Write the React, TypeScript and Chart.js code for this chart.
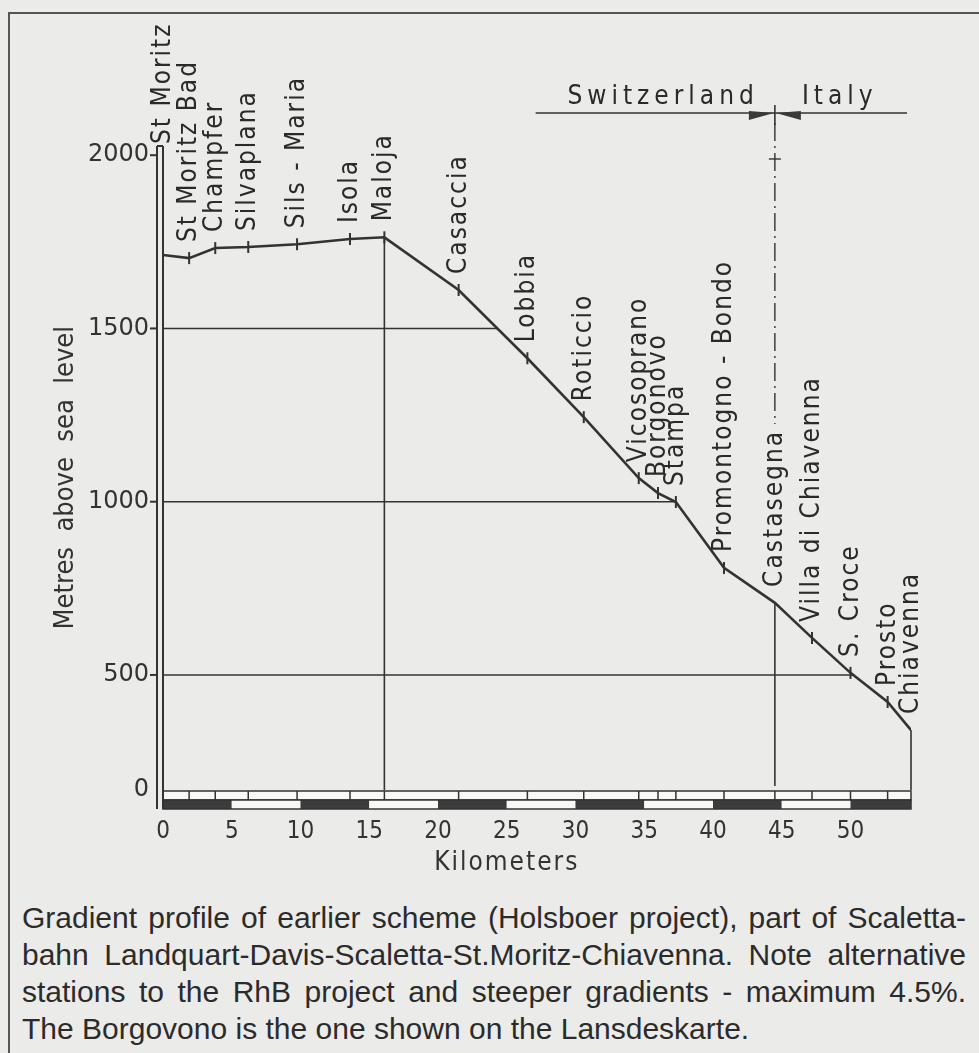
import React, { useEffect, useRef } from 'react';
import { Chart, registerables } from 'chart.js';

Chart.register(...registerables);

// ---- data ----
const stations = [
  'St Moritz', 'St Moritz Bad', 'Champfer', 'Silvaplana', 'Sils - Maria', 'Isola', 'Maloja',
  'Casaccia', 'Lobbia', 'Roticcio', 'Vicosoprano', 'Borgonovo', 'Stampa', 'Promontogno - Bondo',
  'Castasegna', 'Villa di Chiavenna', 'S. Croce', 'Prosto', 'Chiavenna',
];
const stationKm = [0, 1.9, 3.8, 6.2, 9.75, 13.6, 16.1, 21.5, 26.5, 30.6, 34.6, 36.0, 37.3, 40.8, 44.5, 47.2, 50.0, 52.7, 54.4];
const stationElevation = [1712, 1703, 1732, 1735, 1743, 1758, 1763, 1611, 1414, 1244, 1068, 1025, 999, 809, 708, 607, 506, 422, 341];

const xTicks = [0, 5, 10, 15, 20, 25, 30, 35, 40, 45, 50];
// the drawn elevation axis is broken: its floor (labelled "0") sits at about 168 m
const yTicks = [168, 500, 1000, 1500, 2000];
const yTickLabels = ['0', '500', '1000', '1500', '2000'];
const gridLevels = [500, 1000, 1500];
const countries = ['Switzerland', 'Italy'];
const borderStation = 'Castasegna';
const summitStation = 'Maloja';
const scaleBlockKm = 5;
const headerStartKm = 27.1;

const captionLines = [
  'Gradient profile of earlier scheme (Holsboer project), part of Scaletta-',
  'bahn Landquart-Davis-Scaletta-St.Moritz-Chiavenna. Note alternative',
  'stations to the RhB project and steeper gradients - maximum 4.5%.',
  'The Borgovono is the one shown on the Lansdeskarte.',
];

const INK = '#333333';
const BG = '#ebebe9';
const COND = '"DejaVu Sans Condensed", "DejaVu Sans", sans-serif';
const LABEL_FONT = `26px ${COND}`;

function kmAtElevation(level: number): number {
  const start = stations.indexOf(summitStation);
  for (let i = start; i < stationKm.length - 1; i++) {
    const e0 = stationElevation[i], e1 = stationElevation[i + 1];
    if (e0 >= level && e1 <= level) {
      const t = (e0 - level) / (e0 - e1);
      return stationKm[i] + t * (stationKm[i + 1] - stationKm[i]);
    }
  }
  return stationKm[stationKm.length - 1];
}

const profilePlugin = {
  id: 'profileDecor',
  beforeDatasetsDraw(chart: any) {
    const { ctx, chartArea: a, scales } = chart;
    const x = scales.x, y = scales.y;
    ctx.save();
    ctx.strokeStyle = INK;
    ctx.lineWidth = 1.6;
    const seg = (x0: number, y0: number, x1: number, y1: number) => {
      ctx.beginPath(); ctx.moveTo(x0, y0); ctx.lineTo(x1, y1); ctx.stroke();
    };
    // horizontal grid lines, running from the axis to the profile
    for (const lvl of gridLevels) {
      const py = y.getPixelForValue(lvl);
      seg(a.left, py, x.getPixelForValue(kmAtElevation(lvl)), py);
    }
    // summit vertical
    const si = stations.indexOf(summitStation);
    const sx = x.getPixelForValue(stationKm[si]);
    seg(sx, y.getPixelForValue(stationElevation[si]), sx, a.bottom);
    // terminus vertical
    const li = stations.length - 1;
    const lx = x.getPixelForValue(stationKm[li]);
    seg(lx, y.getPixelForValue(stationElevation[li]), lx, a.bottom);

    // frontier line
    const bi = stations.indexOf(borderStation);
    const bx = x.getPixelForValue(stationKm[bi]);
    const by = y.getPixelForValue(stationElevation[bi]);
    const hy = a.top - 37;
    seg(bx, by, bx, a.bottom - 4);
    ctx.font = LABEL_FONT;
    (ctx as any).letterSpacing = '2px';
    const labelTop = by - 16 - ctx.measureText(borderStation).width - 6;
    ctx.setLineDash([18, 5, 2, 5]);
    ctx.lineWidth = 1.4;
    seg(bx, hy + 10, bx, labelTop);
    ctx.setLineDash([]);
    seg(bx - 6, hy + 46, bx + 6, hy + 46);
    ctx.restore();
  },
  afterDatasetsDraw(chart: any) {
    const { ctx, chartArea: a, scales } = chart;
    const x = scales.x, y = scales.y;
    ctx.save();
    ctx.strokeStyle = INK;
    ctx.fillStyle = INK;
    const seg = (x0: number, y0: number, x1: number, y1: number) => {
      ctx.beginPath(); ctx.moveTo(x0, y0); ctx.lineTo(x1, y1); ctx.stroke();
    };

    // scale bar under the profile
    const barTop = a.bottom + 1, barMid = a.bottom + 10, barBot = a.bottom + 19;
    const endKm = stationKm[stationKm.length - 1];
    const xr = x.getPixelForValue(endKm);
    ctx.lineWidth = 1.5;
    ctx.fillStyle = '#f8f8f6';
    ctx.fillRect(a.left, barTop, xr - a.left, barMid - barTop);
    ctx.strokeRect(a.left, barTop, xr - a.left, barMid - barTop);
    for (let i = 1; i < stationKm.length - 1; i++) {
      const px = x.getPixelForValue(stationKm[i]);
      seg(px, barTop, px, barMid);
    }
    for (let k = 0, n = 0; k < endKm; k += scaleBlockKm, n++) {
      const x0 = x.getPixelForValue(k);
      const x1 = x.getPixelForValue(Math.min(k + scaleBlockKm, endKm));
      ctx.fillStyle = n % 2 === 0 ? '#3c3c3c' : '#f8f8f6';
      ctx.fillRect(x0, barMid, x1 - x0, barBot - barMid);
    }
    ctx.strokeRect(a.left, barMid, xr - a.left, barBot - barMid);

    // double vertical axis line
    ctx.lineWidth = 2;
    const ax1 = a.left - 6, ax2 = a.left;
    seg(ax1, a.top - 4, ax1, barBot);
    seg(ax2, a.top - 4, ax2, barBot);
    seg(ax1, a.top - 4, ax2, a.top - 4);
    for (let i = 1; i < yTicks.length; i++) {
      const py = y.getPixelForValue(yTicks[i]);
      seg(ax1 - 7, py, ax1, py);
    }

    // station names
    ctx.fillStyle = '#2a2a2a';
    ctx.font = LABEL_FONT;
    (ctx as any).letterSpacing = '2px';
    ctx.textAlign = 'left';
    ctx.textBaseline = 'alphabetic';
    stations.forEach((name, i) => {
      const px = x.getPixelForValue(stationKm[i]);
      const py = i === 0 ? a.top - 6 : y.getPixelForValue(stationElevation[i]) - 16;
      ctx.save();
      ctx.translate(px + 7, py);
      ctx.rotate(-Math.PI / 2);
      ctx.fillText(name, 0, 0);
      ctx.restore();
    });

    // country header
    const bi = stations.indexOf(borderStation);
    const bx = x.getPixelForValue(stationKm[bi]);
    const hy = a.top - 37;
    ctx.lineWidth = 1.6;
    seg(x.getPixelForValue(headerStartKm), hy, a.right - 4, hy);
    seg(bx, hy - 8, bx, hy + 12);
    ctx.fillStyle = '#3a3a3a';
    ctx.beginPath();
    ctx.moveTo(bx - 26, hy - 2); ctx.lineTo(bx - 1, hy); ctx.lineTo(bx - 26, hy + 7); ctx.closePath(); ctx.fill();
    ctx.beginPath();
    ctx.moveTo(bx + 26, hy - 2); ctx.lineTo(bx + 1, hy); ctx.lineTo(bx + 26, hy + 7); ctx.closePath(); ctx.fill();
    ctx.fillStyle = '#2a2a2a';
    ctx.font = `26px ${COND}`;
    (ctx as any).letterSpacing = '5px';
    ctx.textAlign = 'right';
    ctx.fillText(countries[0], bx - 16, hy - 9);
    ctx.textAlign = 'left';
    ctx.fillText(countries[1], bx + 27, hy - 9);

    // x axis title, centred under the 25 km tick
    ctx.font = `26px ${COND}`;
    (ctx as any).letterSpacing = '2px';
    ctx.textAlign = 'center';
    ctx.textBaseline = 'middle';
    ctx.fillStyle = INK;
    ctx.fillText('Kilometers', x.getPixelForValue(25), a.bottom + 73);
    (ctx as any).letterSpacing = '0px';
    ctx.restore();
  },
};

export default function App() {
  const ref = useRef<HTMLCanvasElement | null>(null);

  useEffect(() => {
    const canvas = ref.current;
    if (!canvas) return;
    const bi = stations.indexOf(borderStation);
    const last = stations.length - 1;
    const chart = new Chart(canvas, {
      type: 'line',
      data: {
        datasets: [
          {
            label: 'Elevation',
            data: stationKm.map((k, i) => ({ x: k, y: stationElevation[i] })),
            borderColor: INK,
            borderWidth: 2.6,
            tension: 0,
            fill: false,
            pointStyle: 'line',
            pointRotation: 90,
            pointRadius: (c: any) => (c.dataIndex === 0 || c.dataIndex === bi || c.dataIndex === last ? 0 : 6),
            pointBorderWidth: 2,
            pointBorderColor: INK,
            pointBackgroundColor: INK,
          } as any,
        ],
      },
      options: {
        animation: false,
        responsive: false,
        maintainAspectRatio: false,
        layout: { padding: { top: 150, right: 68, left: 0, bottom: 0 } },
        plugins: { legend: { display: false }, tooltip: { enabled: false } },
        scales: {
          x: {
            type: 'linear',
            min: 0,
            max: stationKm[stationKm.length - 1],
            afterBuildTicks: (s: any) => { s.ticks = xTicks.map((v) => ({ value: v })); },
            afterFit: (s: any) => { s.height = 90; },
            grid: { display: false, drawTicks: false },
            border: { display: false },
            ticks: {
              autoSkip: false,
              maxRotation: 0,
              padding: 27,
              color: INK,
              font: { family: COND, size: 24 },
            },
          },
          y: {
            type: 'linear',
            min: yTicks[0],
            max: 2015,
            afterBuildTicks: (s: any) => { s.ticks = yTicks.map((v) => ({ value: v })); },
            afterFit: (s: any) => { s.width = 163; },
            grid: { display: false, drawTicks: false },
            border: { display: false },
            ticks: {
              padding: 14,
              color: INK,
              font: { family: '"DejaVu Sans", sans-serif', size: 24 },
              callback: (_v: any, i: number) => yTickLabels[i],
            },
            title: {
              display: true,
              text: 'Metres  above  sea  level  ',
              color: INK,
              font: { family: COND, size: 27 },
              padding: { top: 50, bottom: 0 },
            },
          },
        },
      },
      plugins: [profilePlugin],
    } as any);
    return () => chart.destroy();
  }, []);

  return (
    <div style={{ position: 'absolute', left: 0, top: 0, width: 979, height: 1053, background: BG, overflow: 'hidden' }}>
      <div style={{ position: 'absolute', left: 8, top: 12, width: 971, height: 2, background: '#555' }} />
      <div style={{ position: 'absolute', left: 8, top: 12, width: 2, height: 1041, background: '#555' }} />
      <canvas ref={ref} width={979} height={880} style={{ position: 'absolute', left: 0, top: 0, width: 979, height: 880 }} />
      <div style={{ position: 'absolute', left: 22, top: 899, width: 944, fontFamily: '"Liberation Sans", Arial, sans-serif', fontSize: 30, lineHeight: '37px', color: '#2b2b2b' }}>
        {captionLines.map((line, i) => (
          <div
            key={i}
            style={{
              whiteSpace: 'nowrap',
              textAlign: 'justify',
              textAlignLast: i === captionLines.length - 1 ? 'left' : 'justify',
            } as any}
          >
            {line}
          </div>
        ))}
      </div>
    </div>
  );
}
